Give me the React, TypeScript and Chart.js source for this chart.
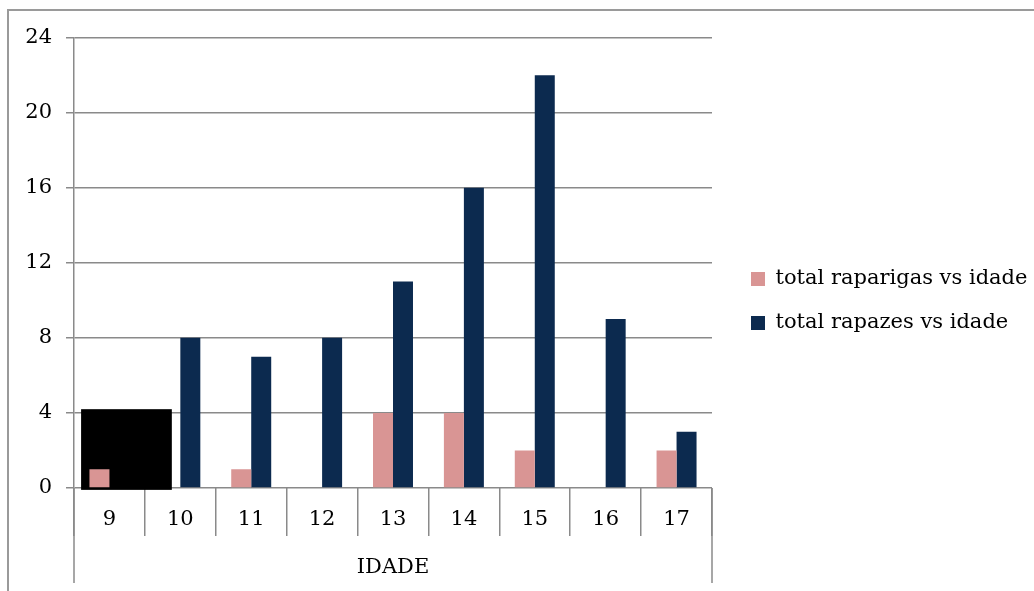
import React, { useEffect, useRef } from 'react';
import { Chart, registerables } from 'chart.js';

Chart.register(...registerables);

const categories = ['9', '10', '11', '12', '13', '14', '15', '16', '17'];
const raparigas = [1, 0, 1, 0, 4, 4, 2, 0, 2];
const rapazes = [0, 8, 7, 8, 11, 16, 22, 9, 3];
const seriesLabels = ['total raparigas vs idade', 'total rapazes vs idade'];
const axisTitle = 'IDADE';
const yMin = 0;
const yMax = 24;
const yStep = 4;
// dark mask block visible in the reference, in data units (category index / value)
const maskX = [-0.4, 0.88];
const maskY = [-0.1, 4.2];

const PINK = '#d99594';
const NAVY = '#0c2a4f';
const GRID = '#8a8a8a';
const FONT = { family: "'DejaVu Serif', serif", size: 21 };
const LEGEND_WIDTH = 306;
const LEGEND_GAP = 16;

export default function App() {
  const ref = useRef<HTMLCanvasElement | null>(null);

  useEffect(() => {
    if (!ref.current) return;
    const legendWidthPlugin = {
      id: 'legendWidth',
      beforeLayout(chart: any) {
        const leg = chart.legend;
        if (leg && !leg.__patched) {
          const orig = leg.fit.bind(leg);
          leg.fit = function () {
            orig();
            this.width = LEGEND_WIDTH;
          };
          leg.__patched = true;
        }
      },
    };
    const maskPlugin = {
      id: 'mask',
      beforeDatasetsDraw(chart: any) {
        const { ctx, scales } = chart;
        const x0 = scales.x.getPixelForValue(maskX[0]);
        const x1 = scales.x.getPixelForValue(maskX[1]);
        const y0 = scales.y.getPixelForValue(maskY[1]);
        const y1 = scales.y.getPixelForValue(maskY[0]);
        ctx.save();
        ctx.fillStyle = '#000';
        ctx.fillRect(x0, y0, x1 - x0, y1 - y0);
        ctx.restore();
      },
    };
    const framePlugin = {
      id: 'frameLines',
      afterDraw(chart: any) {
        const { ctx, chartArea } = chart;
        ctx.save();
        ctx.strokeStyle = GRID;
        ctx.lineWidth = 1.5;
        ctx.beginPath();
        ctx.moveTo(chartArea.left, chartArea.bottom);
        ctx.lineTo(chartArea.left, chartArea.bottom + 95);
        ctx.moveTo(chartArea.right, chartArea.bottom);
        ctx.lineTo(chartArea.right, chartArea.bottom + 95);
        ctx.stroke();
        ctx.restore();
      },
    };
    const chart = new Chart(ref.current, {
      type: 'bar',
      data: {
        labels: categories,
        datasets: [
          { label: seriesLabels[0], data: raparigas, backgroundColor: PINK, borderWidth: 0 },
          { label: seriesLabels[1], data: rapazes, backgroundColor: NAVY, borderWidth: 0 },
        ],
      },
      options: {
        responsive: false,
        animation: false,
        devicePixelRatio: 1,
        layout: { padding: 0 },
        datasets: { bar: { categoryPercentage: 0.564, barPercentage: 1 } },
        plugins: {
          legend: {
            position: 'right',
            labels: { boxWidth: 14, boxHeight: 14, padding: 23, color: '#000', font: FONT },
          },
          tooltip: { enabled: false },
        },
        scales: {
          x: {
            grid: { display: true, drawOnChartArea: false, drawTicks: true, tickLength: 48, color: GRID, lineWidth: 1.5, offset: true },
            border: { display: false },
            ticks: { padding: -29, color: '#000', font: FONT, maxRotation: 0 },
            title: { display: true, text: axisTitle, color: '#000', font: FONT, padding: { top: 0, bottom: 11 } },
            afterFit: (s: any) => { s.height = 103; },
          },
          y: {
            min: yMin,
            max: yMax,
            ticks: { stepSize: yStep, padding: 14, color: '#000', font: FONT },
            grid: { color: GRID, lineWidth: 1.5, tickLength: 8 },
            border: { display: true, color: GRID, width: 1.5 },
            afterFit: (s: any) => { s.width = 65; },
          },
          gap: {
            type: 'linear',
            position: 'right',
            display: true,
            grid: { display: false, drawTicks: false },
            ticks: { display: false },
            border: { display: false },
            afterFit: (s: any) => { s.width = LEGEND_GAP; },
          },
        },
      } as any,
      plugins: [legendWidthPlugin, maskPlugin, framePlugin],
    });
    return () => chart.destroy();
  }, []);

  return (
    <div
      style={{
        position: 'absolute',
        left: 7,
        top: 9,
        width: 1027,
        height: 582,
        boxSizing: 'border-box',
        borderTop: '2px solid #9a9a9a',
        borderLeft: '2px solid #9a9a9a',
        overflow: 'hidden',
        background: '#fff',
      }}
    >
      <canvas ref={ref} width={1025} height={580} style={{ display: 'block' }} />
    </div>
  );
}
